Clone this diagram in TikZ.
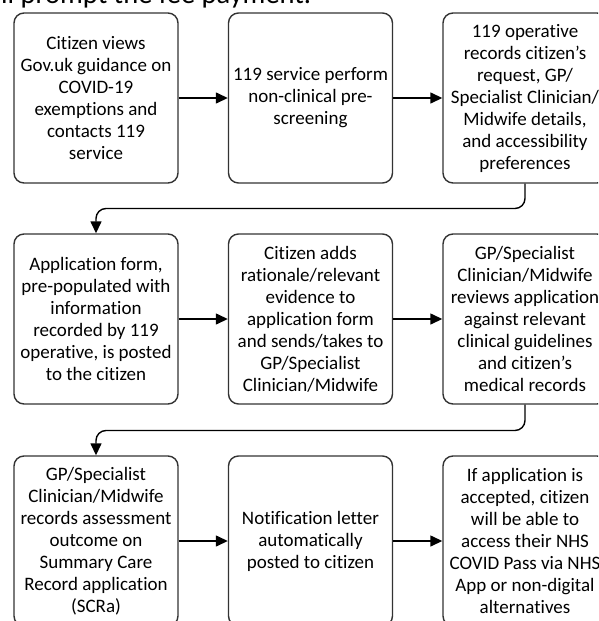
\documentclass[tikz,border=0pt]{standalone}
\usepackage{fontspec}
\setmainfont{Carlito}[Ligatures=NoCommon]
\usetikzlibrary{arrows.meta}
\definecolor{edgegray}{HTML}{333333}
\tikzset{
  x=1pt, y=-1pt,
  flowbox/.style={draw=edgegray, line width=1.4pt, rounded corners=10pt,
    minimum width=164pt, minimum height=170pt, inner sep=1pt,
    align=center, font=\fontsize{19}{22}\selectfont, text=black},
  flowarrow/.style={draw=black, line width=1.4pt,
    -{Triangle[length=12pt,width=11pt]}},
  elbow/.style={flowarrow, rounded corners=10pt}
}
\begin{document}
\begin{tikzpicture}
\useasboundingbox (0,0) rectangle (598,621);
\clip (0,0) rectangle (598,621);
\node[anchor=base west, inner sep=0pt, font=\fontsize{28.5}{32}\selectfont] (top) at (1,3.5) {ll prompt the fee payment.};
% row 1
\node[flowbox] (b1) at (96,98) {Citizen views\\Gov.uk guidance on\\COVID-19\\exemptions and\\contacts 119\\service};
\node[flowbox] (b2) at (310.5,98) {119 service perform\\non-clinical pre-\\screening};
\node[flowbox] (b3) at (525,98) {119 operative\\records citizen’s\\request, GP/\\Specialist Clinician/\\Midwife details,\\and accessibility\\preferences};
% row 2
\node[flowbox] (b4) at (96,319) {Application form,\\pre-populated with\\information\\recorded by 119\\operative, is posted\\to the citizen};
\node[flowbox] (b5) at (310.5,319) {Citizen adds\\rationale/relevant\\evidence to\\application form\\and sends/takes to\\GP/Specialist\\Clinician/Midwife};
\node[flowbox] (b6) at (525,319) {GP/Specialist\\Clinician/Midwife\\reviews application\\against relevant\\clinical guidelines\\and citizen’s\\medical records};
% row 3
\node[flowbox] (b7) at (96,541) {GP/Specialist\\Clinician/Midwife\\records assessment\\outcome on\\Summary Care\\Record application\\(SCRa)};
\node[flowbox] (b8) at (310.5,541) {Notification letter\\automatically\\posted to citizen};
\node[flowbox] (b9) at (525,541) {If application is\\accepted, citizen\\will be able to\\access their NHS\\COVID Pass via NHS\\App or non-digital\\alternatives};
% mid coordinates for elbows
\coordinate (m1) at (0,208.5);
\coordinate (m2) at (0,430.5);
% connectors
\draw[flowarrow] (b1) -- (b2);
\draw[flowarrow] (b2) -- (b3);
\draw[elbow] (b3.south) -- (b3.south |- m1) -- (b4.north |- m1) -- (b4.north);
\draw[flowarrow] (b4) -- (b5);
\draw[flowarrow] (b5) -- (b6);
\draw[elbow] (b6.south) -- (b6.south |- m2) -- (b7.north |- m2) -- (b7.north);
\draw[flowarrow] (b7) -- (b8);
\draw[flowarrow] (b8) -- (b9);
\end{tikzpicture}
\end{document}
